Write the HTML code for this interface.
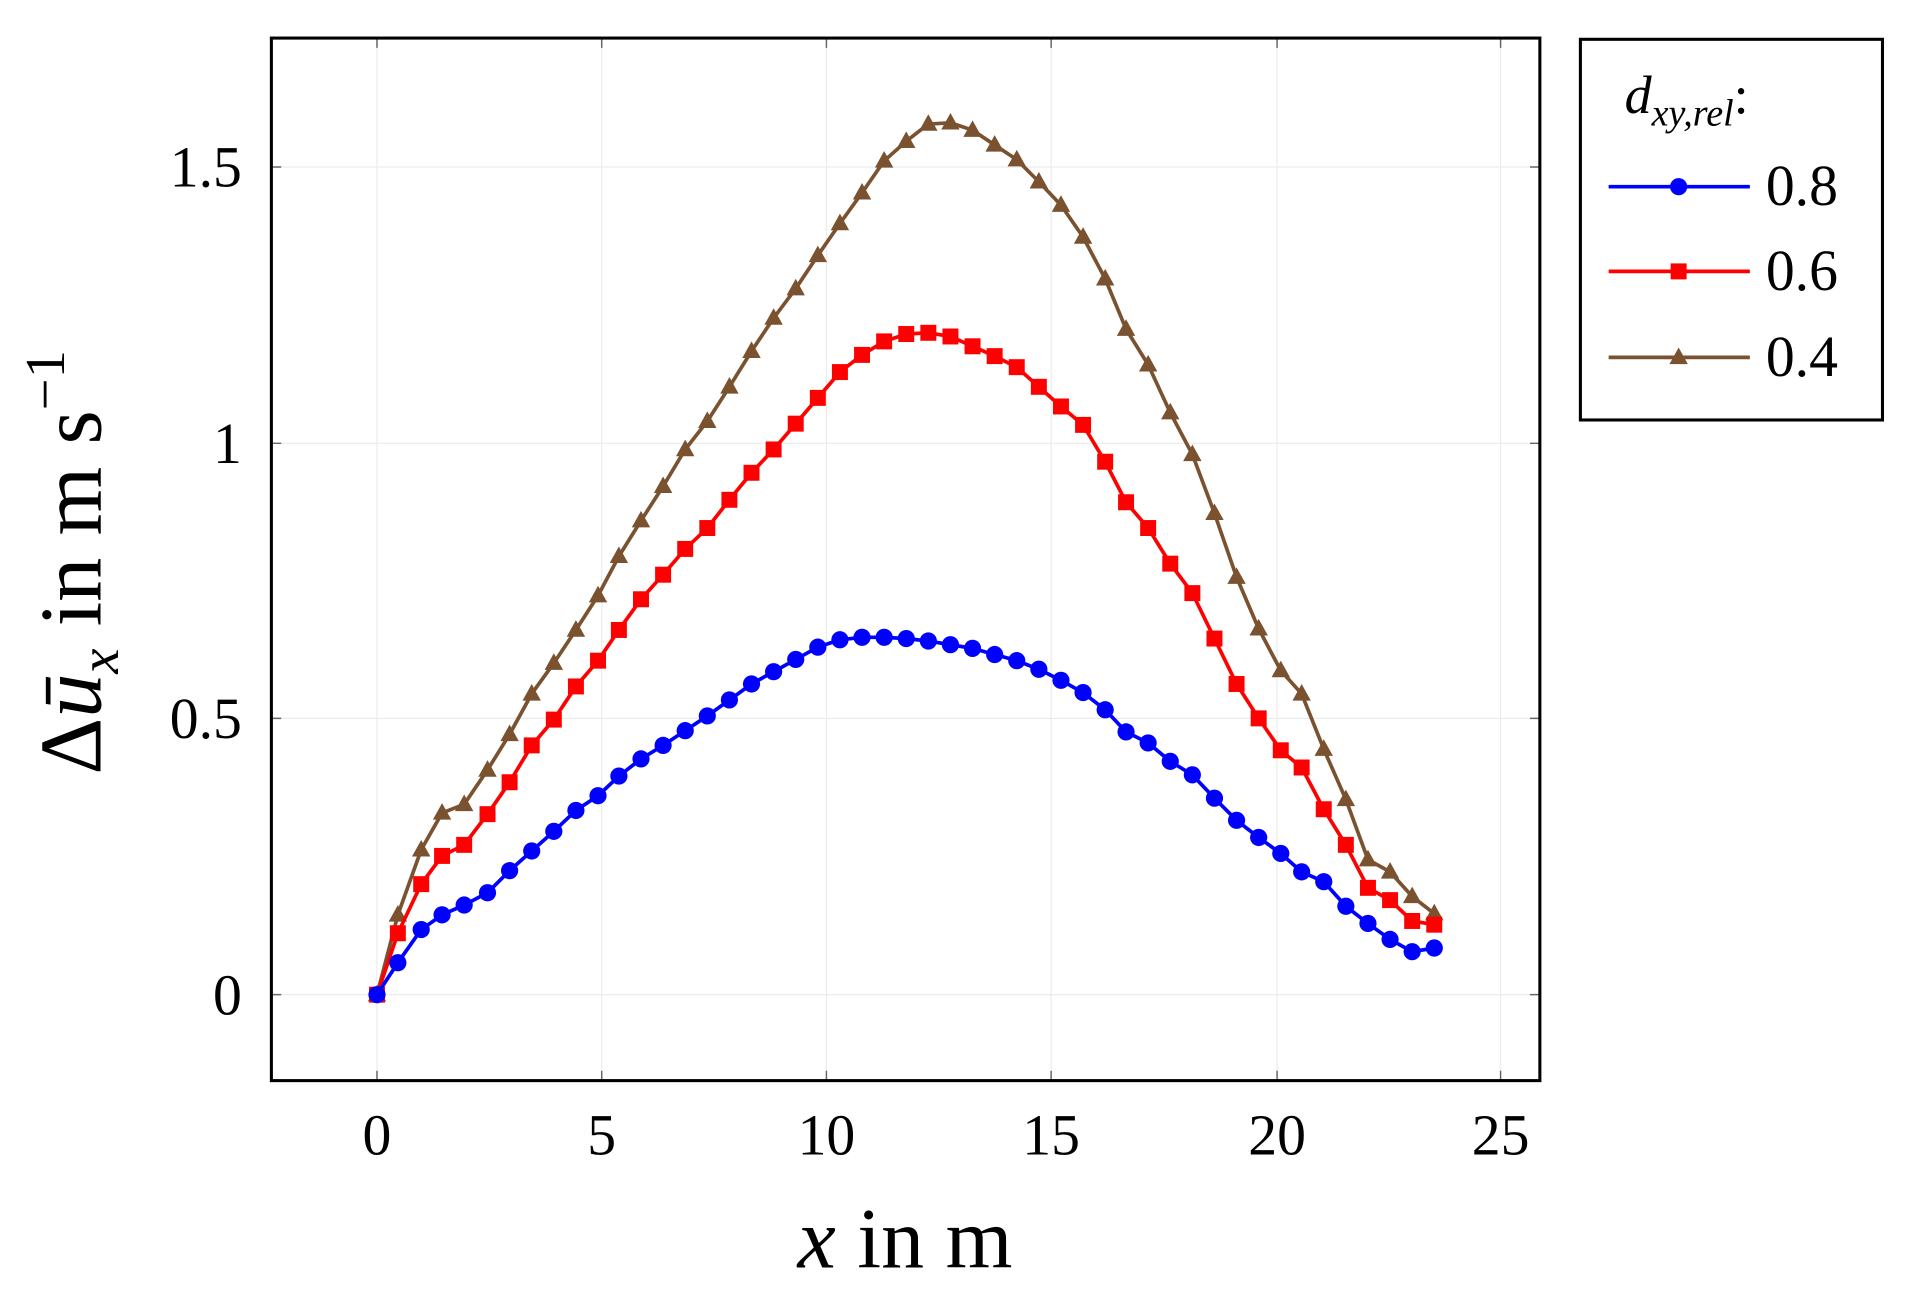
<!DOCTYPE html>
<html><head><meta charset="utf-8"><style>html,body{margin:0;padding:0;background:#fff}svg{display:block}</style></head>
<body>
<svg width="1916" height="1297" viewBox="0 0 1560.3 1056.2" xmlns="http://www.w3.org/2000/svg" font-family="'Liberation Serif', serif">
<defs>
<marker id="mc" markerUnits="userSpaceOnUse" markerWidth="18" markerHeight="18" refX="9" refY="9" viewBox="0 0 18 18"><circle cx="9" cy="9" r="7" fill="#0000ff"/></marker>
<marker id="ms" markerUnits="userSpaceOnUse" markerWidth="18" markerHeight="18" refX="9" refY="9" viewBox="0 0 18 18"><rect x="2.5" y="2.5" width="13" height="13" fill="#ff0000"/></marker>
<marker id="mt" markerUnits="userSpaceOnUse" markerWidth="18" markerHeight="18" refX="9" refY="9" viewBox="0 0 18 18"><path d="M9,1 L16.5,14.5 L1.5,14.5Z" fill="#7a5230"/></marker>
</defs>
<g stroke="#ececec" stroke-width="1">
<line x1="307" y1="31" x2="307" y2="880"/><line x1="490" y1="31" x2="490" y2="880"/><line x1="673" y1="31" x2="673" y2="880"/><line x1="856" y1="31" x2="856" y2="880"/><line x1="1040" y1="31" x2="1040" y2="880"/><line x1="1222" y1="31" x2="1222" y2="880"/>
<line x1="221" y1="810" x2="1254" y2="810"/><line x1="221" y1="585" x2="1254" y2="585"/><line x1="221" y1="361" x2="1254" y2="361"/><line x1="221" y1="136" x2="1254" y2="136"/>
</g>
<g stroke="#666" stroke-width="1.2">
<path d="M307 31v8M490 31v8M673 31v8M856 31v8M1040 31v8M1222 31v8M307 880v-8M490 880v-8M673 880v-8M856 880v-8M1040 880v-8M1222 880v-8"/>
<path d="M221 810h8M221 585h8M221 361h8M221 136h8M1254 810h-8M1254 585h-8M1254 361h-8M1254 136h-8"/>
</g>
<g fill="none" stroke-width="3" stroke-linejoin="round">
<polyline stroke="#7a5230" marker-start="url(#mt)" marker-mid="url(#mt)" marker-end="url(#mt)" points="307,810 324,745 343,692 360,662 378,655 397,627 415,598 433,565 451,540 469,513 487,485 504,453 522,424 540,396 558,366 576,343 594,315 612,286 630,259 648,235 666,208 684,182 702,157 720,131 738,115 756,101 774,100 792,106 810,118 828,130 846,148 864,167 882,193 900,227 917,268 935,297 953,336 971,370 989,418 1007,470 1025,512 1043,546 1060,565 1078,610 1096,651 1114,700 1132,710 1150,730 1168,744"/>
<polyline stroke="#ff0000" marker-start="url(#ms)" marker-mid="url(#ms)" marker-end="url(#ms)" points="307,810 324,760 343,720 360,697 378,688 397,663 415,637 433,607 451,586 469,559 487,538 504,513 522,488 540,468 558,447 576,430 594,407 612,385 630,366 648,345 666,324 684,303 702,289 720,278 738,272 756,271 774,274 792,282 810,290 828,299 846,315 864,331 882,346 900,376 917,409 935,430 953,459 971,483 989,520 1007,557 1025,585 1043,611 1060,625 1078,659 1096,688 1114,723 1132,733 1150,750 1168,753"/>
<polyline stroke="#0000ff" marker-start="url(#mc)" marker-mid="url(#mc)" marker-end="url(#mc)" points="307,810 324,784 343,757 360,745 378,737 397,727 415,709 433,693 451,677 469,660 487,648 504,632 522,618 540,607 558,595 576,583 594,570 612,557 630,547 648,537 666,527 684,521 702,519 720,519 738,520 756,522 774,525 792,528 810,533 828,538 846,545 864,554 882,564 900,578 917,596 935,605 953,620 971,631 989,650 1007,668 1025,682 1043,695 1060,710 1078,718 1096,738 1114,752 1132,765 1150,775 1168,772"/>
</g>
<rect x="221" y="31" width="1033" height="849" fill="none" stroke="#000" stroke-width="2.5"/>
<g font-size="47" fill="#000">
<text x="307" y="940" text-anchor="middle">0</text><text x="490" y="940" text-anchor="middle">5</text><text x="673" y="940" text-anchor="middle">10</text><text x="856" y="940" text-anchor="middle">15</text><text x="1040" y="940" text-anchor="middle">20</text><text x="1222" y="940" text-anchor="middle">25</text>
<text x="197" y="826" text-anchor="end">0</text><text x="197" y="601" text-anchor="end">0.5</text><text x="197" y="377" text-anchor="end">1</text><text x="197" y="152" text-anchor="end">1.5</text>
</g>
<text x="737" y="1032" font-size="70" text-anchor="middle"><tspan font-style="italic">x</tspan> in m</text>
<text transform="translate(82,458) rotate(-90)" font-size="72" text-anchor="middle">Δ<tspan font-style="italic">ū</tspan><tspan font-style="italic" font-size="46" dy="14">x</tspan><tspan dy="-14"> in m s</tspan><tspan font-size="46" dy="-30">−1</tspan></text>
<rect x="1287" y="32" width="246" height="310" fill="#fff" stroke="#000" stroke-width="2.5"/>
<text x="1323" y="92" font-size="44"><tspan font-style="italic">d</tspan><tspan font-style="italic" font-size="31" dy="10">xy,rel</tspan><tspan dy="-10">:</tspan></text>
<g fill="none" stroke-width="3">
<polyline stroke="#0000ff" points="1310,152 1367,152 1425,152" marker-mid="url(#mc)"/>
<polyline stroke="#ff0000" points="1310,221 1367,221 1425,221" marker-mid="url(#ms)"/>
<polyline stroke="#7a5230" points="1310,291 1367,291 1425,291" marker-mid="url(#mt)"/>
</g>
<g font-size="47"><text x="1438" y="167">0.8</text><text x="1438" y="236">0.6</text><text x="1438" y="306">0.4</text></g>
</svg>
</body></html>
